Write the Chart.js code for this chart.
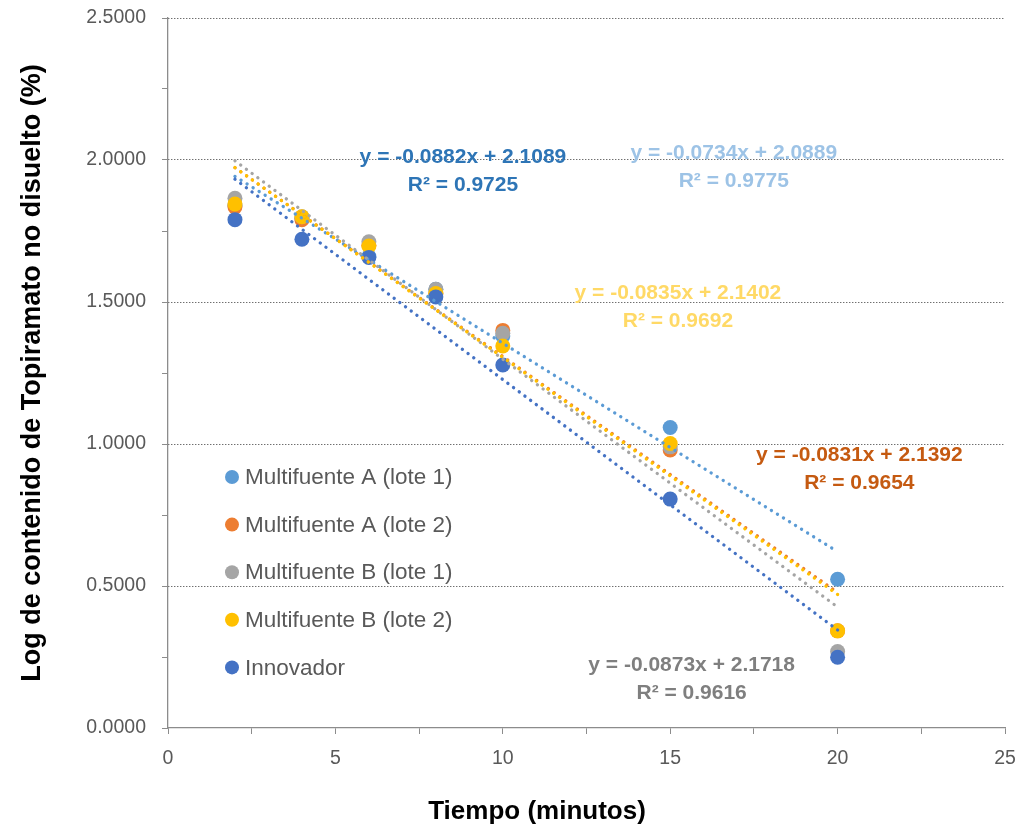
<!DOCTYPE html>
<html>
<head>
<meta charset="utf-8">
<script src="https://cdn.jsdelivr.net/npm/chart.js@4/dist/chart.umd.min.js"></script>
<style>
  html, body { margin: 0; padding: 0; background: #fff; }
  #wrap { width: 1023px; height: 832px; }
</style>
</head>
<body>
<div id="wrap"><canvas id="chart" width="1023" height="832"></canvas></div>
<script>
// Tiempo (minutos)
const tiempos = [2, 4, 6, 8, 10, 15, 20];

// Log de contenido no disuelto
const multiA1 = [1.84, 1.795, 1.66, 1.545, 1.38, 1.058, 0.524];
const multiA2 = [1.835, 1.79, 1.70, 1.53, 1.40, 0.979, 0.342];
const multiB1 = [1.865, 1.80, 1.712, 1.545, 1.39, 0.99, 0.269];
const multiB2 = [1.845, 1.80, 1.697, 1.53, 1.345, 1.002, 0.342];
const innovador = [1.79, 1.721, 1.657, 1.518, 1.278, 0.806, 0.249];

const series = ['Multifuente A (lote 1)', 'Multifuente A (lote 2)', 'Multifuente B (lote 1)', 'Multifuente B (lote 2)', 'Innovador'];
const colores = ['#5B9BD5', '#ED7D31', '#A5A5A5', '#FFC000', '#4472C4'];

// trendlines (Excel linear fits shown on the chart)
const pendientes = [-0.0734, -0.0831, -0.0873, -0.0835, -0.0882];
const intercepts = [2.0889, 2.1392, 2.1718, 2.1402, 2.1089];
const r2 = ['0.9775', '0.9654', '0.9616', '0.9692', '0.9725'];
const colorEtiqueta = ['#9DC3E6', '#C55A11', '#7F7F7F', '#FFD966', '#2E75B6'];

const valores = [multiA1, multiA2, multiB1, multiB2, innovador];
const TICK_FONT = "'Liberation Sans', Arial, sans-serif";

const datasets = [];
valores.forEach((vals, i) => {
    datasets.push({
        label: series[i],
        data: tiempos.map((t, k) => ({ x: t, y: vals[k] })),
        backgroundColor: colores[i],
        borderWidth: 0,
        pointRadius: 7.5,
        pointHoverRadius: 7.5,
        showLine: false,
        order: 10 - i
    });
});
valores.forEach((vals, i) => {
    const x0 = tiempos[0], x1 = tiempos[tiempos.length - 1];
    datasets.push({
        label: 'tendencia ' + series[i],
        data: [{ x: x0, y: pendientes[i] * x0 + intercepts[i] }, { x: x1, y: pendientes[i] * x1 + intercepts[i] }],
        borderColor: colores[i],
        borderWidth: 3.3,
        borderDash: [0.1, 7],
        borderCapStyle: 'round',
        pointRadius: 0,
        showLine: true,
        fill: false,
        order: 5 - i
    });
});

// where each equation label sits (in data units)
const posEtiqueta = [
    { x: 16.9, y: 2.025 },
    { x: 20.65, y: 0.96 },
    { x: 15.64, y: 0.22 },
    { x: 15.23, y: 1.53 },
    { x: 8.81, y: 2.01 }
];

const extras = {
    id: 'extras',
    afterDraw(chart) {
        const ctx = chart.ctx;
        const xs = chart.scales.x, ys = chart.scales.y;
        ctx.save();
        // equations
        ctx.font = "bold 21px 'Liberation Sans', Arial, sans-serif";
        ctx.textAlign = 'center';
        ctx.textBaseline = 'middle';
        posEtiqueta.forEach((p, i) => {
            const px = xs.getPixelForValue(p.x), py = ys.getPixelForValue(p.y);
            const signo = intercepts[i] >= 0 ? ' + ' : ' - ';
            ctx.fillStyle = colorEtiqueta[i];
            ctx.fillText('y = ' + pendientes[i].toFixed(4) + 'x' + signo + Math.abs(intercepts[i]).toFixed(4), px, py);
            ctx.fillText('R² = ' + r2[i], px, py + 28);
        });
        // legend inside plot
        ctx.font = "22.5px 'Liberation Sans', Arial, sans-serif";
        ctx.textAlign = 'left';
        series.forEach((s, i) => {
            const y = 477 + i * 47.6;
            ctx.fillStyle = colores[i];
            ctx.beginPath();
            ctx.arc(232, y, 7, 0, Math.PI * 2);
            ctx.fill();
            ctx.fillStyle = '#595959';
            ctx.fillText(s, 245, y + 1);
        });
        // x axis title
        ctx.fillStyle = '#000';
        ctx.font = "bold 26px 'Liberation Sans', Arial, sans-serif";
        ctx.textAlign = 'center';
        ctx.fillText('Tiempo (minutos)', 537, 812);
        ctx.restore();
    }
};

new Chart(document.getElementById('chart').getContext('2d'), {
    type: 'scatter',
    data: { datasets: datasets },
    options: {
        responsive: false,
        animation: false,
        layout: { padding: { top: 18, right: 18, left: 0, bottom: 0 } },
        plugins: {
            legend: { display: false },
            tooltip: { enabled: false }
        },
        scales: {
            x: {
                type: 'linear',
                min: 0,
                max: 25,
                afterFit: (s) => { s.height = 104; s.paddingLeft = 0; s.paddingRight = 0; },
                ticks: {
                    stepSize: 2.5,
                    autoSkip: false,
                    maxRotation: 0,
                    padding: 13,
                    color: '#595959',
                    font: { family: TICK_FONT, size: 19.5 },
                    callback: (v) => (v % 5 === 0 ? v : '')
                },
                grid: {
                    drawOnChartArea: false,
                    tickLength: 6,
                    tickColor: '#8c8c8c'
                },
                border: { color: '#8c8c8c', width: 1.3 }
            },
            y: {
                min: 0,
                max: 2.5,
                afterFit: (s) => { s.width = 168; s.paddingTop = 0; s.paddingBottom = 0; },
                ticks: {
                    stepSize: 0.25,
                    autoSkip: false,
                    padding: 16,
                    color: '#595959',
                    font: { family: TICK_FONT, size: 19.5 },
                    callback: (v) => (Math.abs(v % 0.5) < 1e-9 ? v.toFixed(4) : '')
                },
                grid: {
                    color: (c) => (c.tick && c.tick.value > 0 && Math.abs(c.tick.value % 0.5) < 1e-9 ? '#333' : 'rgba(0,0,0,0)'),
                    lineWidth: 1,
                    tickLength: 6,
                    tickColor: '#8c8c8c'
                },
                border: { color: '#8c8c8c', width: 1.3, dash: [1, 2] },
                title: {
                    display: true,
                    text: 'Log de contenido de Topiramato no disuelto (%)',
                    color: '#000',
                    font: { family: TICK_FONT, size: 27, weight: 'bold' },
                    padding: { top: 16, bottom: 0 }
                }
            }
        }
    },
    plugins: [extras]
});
</script>
</body>
</html>
